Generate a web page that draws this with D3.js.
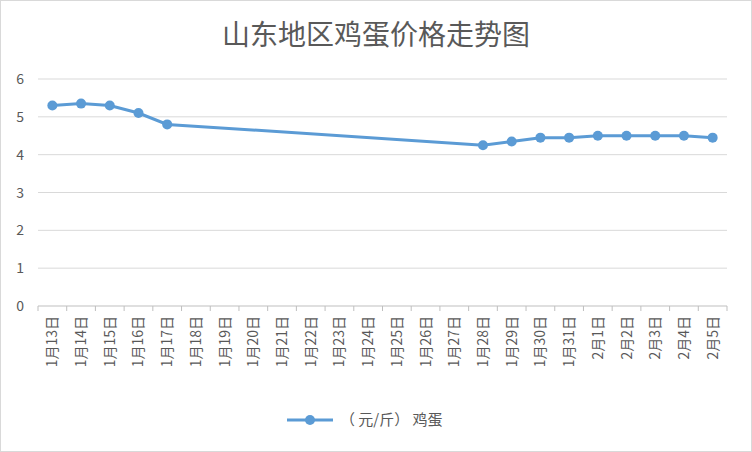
<!DOCTYPE html>
<html><head><meta charset="utf-8">
<script src="https://cdn.jsdelivr.net/npm/d3@7"></script>
<style>body{margin:0;background:#fff}svg{font-family:"Noto Sans CJK SC","Microsoft YaHei",sans-serif}</style>
</head><body><svg id="c" width="752" height="452"></svg>
<script>
const categories=["1月13日","1月14日","1月15日","1月16日","1月17日","1月18日","1月19日","1月20日","1月21日","1月22日","1月23日","1月24日","1月25日","1月26日","1月27日","1月28日","1月29日","1月30日","1月31日","2月1日","2月2日","2月3日","2月4日","2月5日"];
const values=[5.3,5.35,5.3,5.1,4.8,null,null,null,null,null,null,null,null,null,null,4.25,4.35,4.45,4.45,4.5,4.5,4.5,4.5,4.45];
const yTicks=[0,1,2,3,4,5,6];
const seriesName="（ 元/斤） 鸡蛋";
const title="山东地区鸡蛋价格走势图";
const svg=d3.select("#c");
svg.append("rect").attr("x",0.5).attr("y",0.5).attr("width",751).attr("height",451).attr("fill","#fff").attr("stroke","#d9d9d9");
const x=d3.scaleBand().domain(categories).range([38,727]);
const y=d3.scaleLinear().domain([0,6]).range([306,79]);
svg.append("text").attr("x",376).attr("y",45).attr("text-anchor","middle").attr("font-size",28).attr("fill","#595959").text(title);
svg.append("g").selectAll("line").data(yTicks).join("line").attr("x1",38).attr("x2",727).attr("y1",d=>y(d)).attr("y2",d=>y(d)).attr("stroke",d=>d===0?"#bfbfbf":"#d9d9d9");
svg.append("g").selectAll("text").data(yTicks).join("text").attr("x",24).attr("y",d=>y(d)+5).attr("text-anchor","end").attr("font-size",14).attr("fill","#595959").text(d=>d);
svg.append("g").selectAll("line").data(categories.concat(["end"])).join("line").attr("x1",(d,i)=>38+i*x.step()).attr("x2",(d,i)=>38+i*x.step()).attr("y1",306).attr("y2",311).attr("stroke","#bfbfbf");
svg.append("g").selectAll("text").data(categories).join("text").attr("transform",d=>`translate(${x(d)+x.bandwidth()/2+5},316) rotate(-90)`).attr("text-anchor","end").attr("font-size",14).attr("fill","#595959").text(d=>d);
const pts=categories.map((c,i)=>({c,v:values[i]})).filter(d=>d.v!=null);
const cx=d=>x(d.c)+x.bandwidth()/2;
svg.append("path").datum(pts).attr("fill","none").attr("stroke","#5b9bd5").attr("stroke-width",3).attr("d",d3.line().x(cx).y(d=>y(d.v)));
svg.append("g").selectAll("circle").data(pts).join("circle").attr("cx",cx).attr("cy",d=>y(d.v)).attr("r",5).attr("fill","#5b9bd5");
const lg=svg.append("g");
lg.append("line").attr("x1",287).attr("x2",333).attr("y1",420).attr("y2",420).attr("stroke","#5b9bd5").attr("stroke-width",3);
lg.append("circle").attr("cx",310).attr("cy",420).attr("r",5).attr("fill","#5b9bd5");
lg.append("text").attr("x",340).attr("y",425).attr("font-size",15).attr("fill","#595959").text(seriesName);
</script></body></html>
